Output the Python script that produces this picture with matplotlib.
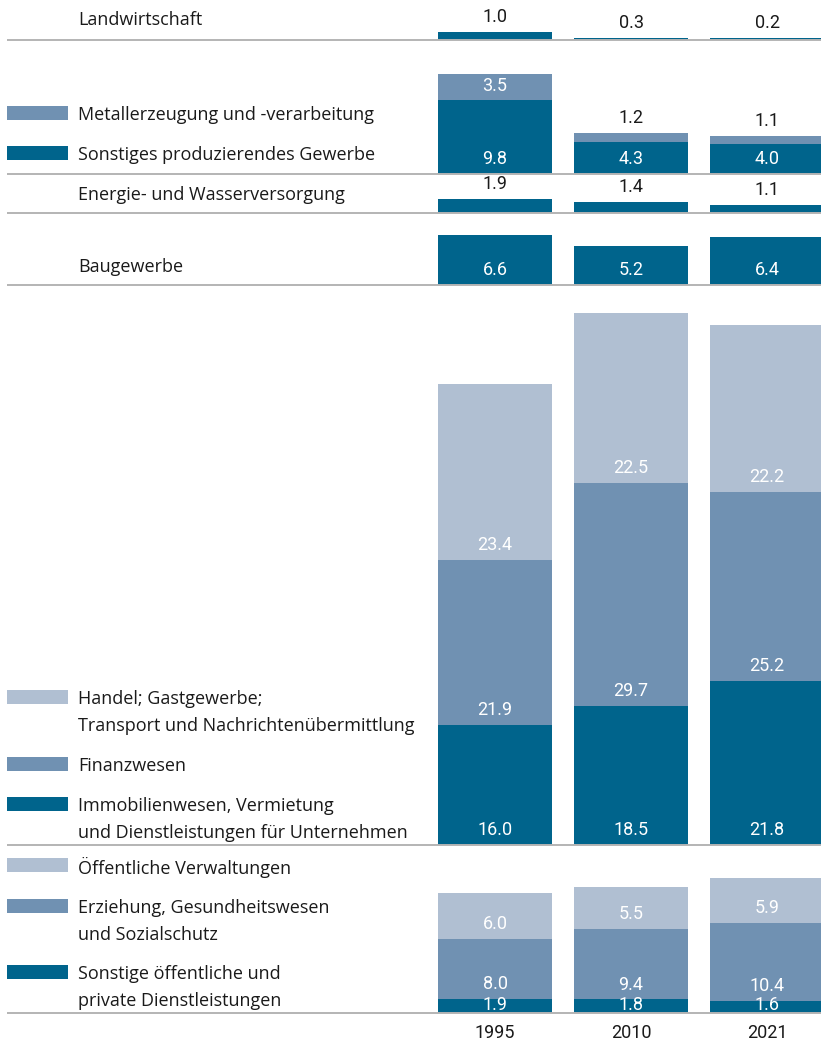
import matplotlib
matplotlib.use('Agg')
import matplotlib.pyplot as plt
from matplotlib.patches import Rectangle

# --- data (Bruttowertschöpfung nach Wirtschaftsbereichen) ---
years = ['1995', '2010', '2021']

landwirtschaft = [1.0, 0.3, 0.2]
sonst_produz = [9.8, 4.3, 4.0]
metall = [3.5, 1.2, 1.1]
energie = [1.9, 1.4, 1.1]
bau = [6.6, 5.2, 6.4]
immobilien = [16.0, 18.5, 21.8]
finanz = [21.9, 29.7, 25.2]
handel = [23.4, 22.5, 22.2]
sonst_dienst = [1.9, 1.8, 1.6]
erziehung = [8.0, 9.4, 10.4]
verwaltung = [6.0, 5.5, 5.9]

DARK = '#00648c'
MID = '#7091b2'
LIGHT = '#b0bfd2'
TXT = '#1a1a1a'
GRID = '#b4b4b4'

W, H = 821, 1043
S = 7.52          # pixel per unit
BASE_PX = 1013    # lowest baseline in pixels

def py(p):
    # pixel row -> data y
    return (BASE_PX - p) / S

# sections: (baseline pixel, [(values, color)], [(legend text, color or None, y pixel)])
sections = [
    (40, [(landwirtschaft, DARK)],
     [('Landwirtschaft', None, 18)]),
    (174, [(sonst_produz, DARK), (metall, MID)],
     [('Metallerzeugung und -verarbeitung', MID, 113),
      ('Sonstiges produzierendes Gewerbe', DARK, 153)]),
    (213, [(energie, DARK)],
     [('Energie- und Wasserversorgung', None, 193)]),
    (285, [(bau, DARK)],
     [('Baugewerbe', None, 265)]),
    (845, [(immobilien, DARK), (finanz, MID), (handel, LIGHT)],
     [('Handel; Gastgewerbe;\nTransport und Nachrichtenübermittlung', LIGHT, 697),
      ('Finanzwesen', MID, 764),
      ('Immobilienwesen, Vermietung\nund Dienstleistungen für Unternehmen', DARK, 804)]),
    (1013, [(sonst_dienst, DARK), (erziehung, MID), (verwaltung, LIGHT)],
     [('Öffentliche Verwaltungen', LIGHT, 865),
      ('Erziehung, Gesundheitswesen\nund Sozialschutz', MID, 906),
      ('Sonstige öffentliche und\nprivate Dienstleistungen', DARK, 972)]),
]

fig = plt.figure(figsize=(W / 100, H / 100), dpi=100)
ax = fig.add_axes([0, 0, 1, 1])
# category positions: 1995 centred at px 495, step 136 px
step = 136.0
x0 = -495 / step
ax.set_xlim(x0, 2 + (W - 767) / step)
ax.set_ylim(py(H), py(0))
ax.axis('off')

x = list(range(len(years)))
bw = 114 / step
txt_font = ['Open Sans', 'DejaVu Sans']
num_font = ['Roboto', 'DejaVu Sans']

for base_px, series, legend in sections:
    b0 = py(base_px)
    bottoms = [b0] * len(years)
    for si, (vals, col) in enumerate(series):
        ax.bar(x, vals, width=bw, bottom=bottoms, color=col, linewidth=0, zorder=2)
        top_seg = si == len(series) - 1
        for i, v in enumerate(vals):
            if top_seg and v < 2.5:
                ax.text(x[i], bottoms[i] + v + 0.8, f'{v:.1f}', ha='center', va='bottom',
                        fontsize=13, color=TXT, family=num_font, zorder=4)
            else:
                off = 0.75 if v >= 2.5 else -0.1
                ax.text(x[i], bottoms[i] + off, f'{v:.1f}', ha='center', va='bottom',
                        fontsize=13, color='white', family=num_font, zorder=4)
        bottoms = [b + v for b, v in zip(bottoms, vals)]
    # separator line
    ax.plot([x0 + 7 / step, ax.get_xlim()[1]], [b0, b0],
            color=GRID, lw=1.4, zorder=3, solid_capstyle='butt')
    # legend entries
    for label, col, ypx in legend:
        for k, line in enumerate(label.split('\n')):
            ax.text(x0 + 78 / step, py(ypx + 2 + 27 * k), line, ha='left', va='center',
                    fontsize=13, color=TXT, family=txt_font)
        if col is not None:
            ax.add_patch(Rectangle((x0 + 7 / step, py(ypx) - 7 / S),
                                   61 / step, 14 / S, color=col, lw=0))

for i, yr in enumerate(years):
    ax.text(x[i], py(1033), yr, ha='center', va='center', fontsize=13,
            color=TXT, family=num_font)

fig.savefig('out.png', dpi=100)
